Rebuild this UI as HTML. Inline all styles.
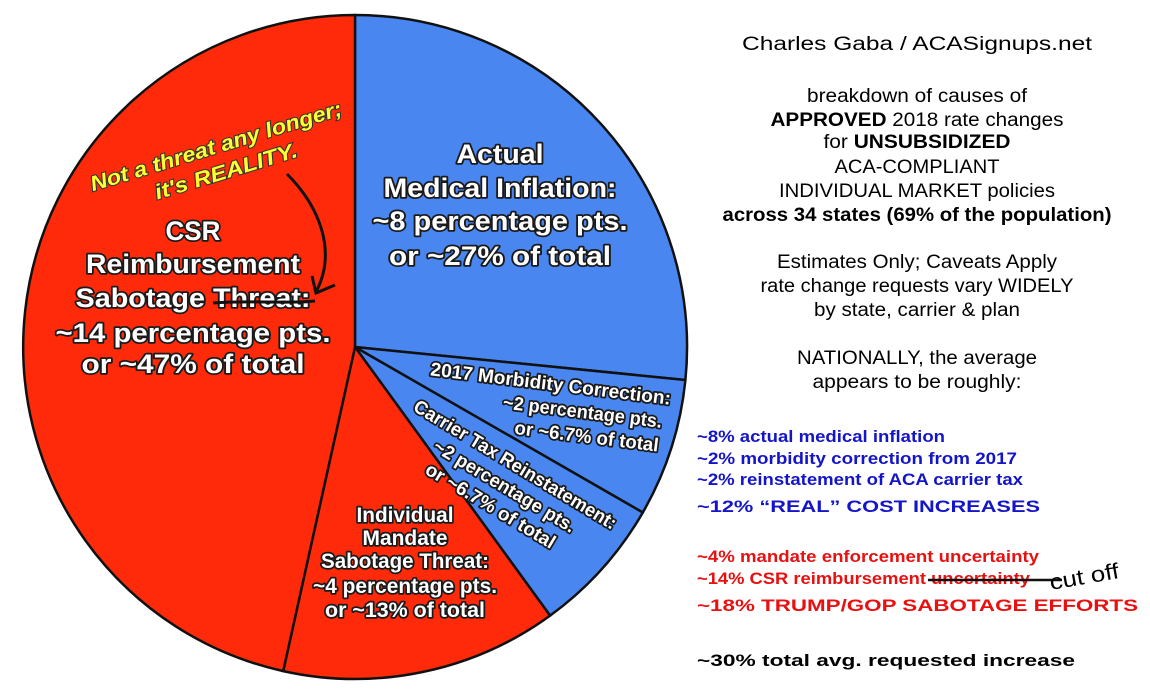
<!DOCTYPE html>
<html><head><meta charset="utf-8"><style>
html,body{margin:0;padding:0;background:#fff;}
svg{display:block;}
.w{fill:#fff;stroke:#1a1a1a;stroke-width:3.5;paint-order:stroke;stroke-linejoin:round;font-family:"Liberation Sans",sans-serif;font-weight:bold;text-anchor:middle;}
.r{font-family:"Liberation Sans",sans-serif;fill:#000;text-anchor:middle;font-size:19px;}
.l{font-family:"Liberation Sans",sans-serif;font-weight:bold;font-size:17px;}
</style></head><body>
<svg width="1150" height="700" viewBox="0 0 1150 700" xmlns="http://www.w3.org/2000/svg">
<rect width="1150" height="700" fill="#fff"/>
<g stroke="#111" stroke-width="2.5" stroke-linejoin="round">
<path d="M355,347 L355,15 A332,332 0 0 1 685.4,380 Z" fill="#4a86f0"/>
<path d="M355,347 L685.4,380 A332,332 0 0 1 642.8,512.5 Z" fill="#4a86f0"/>
<path d="M355,347 L642.8,512.5 A332,332 0 0 1 550.1,615.6 Z" fill="#4a86f0"/>
<path d="M355,347 L550.1,615.6 A332,332 0 0 1 283.2,671.1 Z" fill="#ff2a0a"/>
<path d="M355,347 L283.2,671.1 A332,332 0 0 1 355,15 Z" fill="#ff2a0a"/>
</g>
<g class="w" font-size="27" lengthAdjust="spacingAndGlyphs">
<text x="500" y="163" textLength="87" lengthAdjust="spacingAndGlyphs">Actual</text>
<text x="500" y="197" textLength="233" lengthAdjust="spacingAndGlyphs">Medical Inflation:</text>
<text x="500" y="230" textLength="255" lengthAdjust="spacingAndGlyphs">~8 percentage pts.</text>
<text x="500" y="265" textLength="222" lengthAdjust="spacingAndGlyphs">or ~27% of total</text>
<text x="193" y="240" textLength="55" lengthAdjust="spacingAndGlyphs">CSR</text>
<text x="193" y="273" textLength="214" lengthAdjust="spacingAndGlyphs">Reimbursement</text>
<text x="193" y="307" textLength="235" lengthAdjust="spacingAndGlyphs">Sabotage Threat:</text>
<text x="193" y="342" textLength="275" lengthAdjust="spacingAndGlyphs">~14 percentage pts.</text>
<text x="193" y="373" textLength="223" lengthAdjust="spacingAndGlyphs">or ~47% of total</text>
</g>
<path d="M213,303 C250,300 285,304 315,301" fill="none" stroke="#111" stroke-width="3"/>
<g class="w" font-size="21" stroke-width="3">
<text x="405" y="522" textLength="97" lengthAdjust="spacingAndGlyphs">Individual</text>
<text x="405" y="545" textLength="85" lengthAdjust="spacingAndGlyphs">Mandate</text>
<text x="405" y="568" textLength="168" lengthAdjust="spacingAndGlyphs">Sabotage Threat:</text>
<text x="405" y="593" textLength="184" lengthAdjust="spacingAndGlyphs">~4 percentage pts.</text>
<text x="405" y="617" textLength="160" lengthAdjust="spacingAndGlyphs">or ~13% of total</text>
</g>
<g class="w" font-size="19" stroke-width="3" transform="translate(550,390) rotate(7)">
<text x="0" y="0" textLength="242" lengthAdjust="spacingAndGlyphs">2017 Morbidity Correction:</text>
<text x="35" y="24" textLength="160" lengthAdjust="spacingAndGlyphs">~2 percentage pts.</text>
<text x="42" y="48" textLength="145" lengthAdjust="spacingAndGlyphs">or ~6.7% of total</text>
</g>
<g class="w" font-size="19" stroke-width="3" transform="translate(512,470) rotate(31)">
<text x="0" y="0" textLength="233" lengthAdjust="spacingAndGlyphs">Carrier Tax Reinstatement:</text>
<text x="2" y="24" textLength="162" lengthAdjust="spacingAndGlyphs">~2 percentage pts.</text>
<text x="0" y="48" textLength="148" lengthAdjust="spacingAndGlyphs">or ~6.7% of total</text>
</g>
<g font-family="'Liberation Sans',sans-serif" font-size="21" font-style="italic" font-weight="bold" fill="#ffff30" stroke="#333" stroke-width="2" paint-order="stroke" text-anchor="middle">
<text x="0" y="0" transform="translate(218,153) rotate(-17)" textLength="262" lengthAdjust="spacingAndGlyphs">Not a threat any longer;</text>
<text x="0" y="0" transform="translate(228,178) rotate(-17)" textLength="148" lengthAdjust="spacingAndGlyphs">it's REALITY.</text>
</g>
<path d="M287,174 C318,205 338,250 316,292" fill="none" stroke="#111" stroke-width="3"/>
<path d="M312,276 L316,293 L335,285" fill="none" stroke="#111" stroke-width="3"/>
<g lengthAdjust="spacingAndGlyphs">
<text class="r" x="917" y="50" font-size="22" textLength="350" lengthAdjust="spacingAndGlyphs">Charles Gaba / ACASignups.net</text>
<text class="r" x="917" y="102" textLength="220" lengthAdjust="spacingAndGlyphs">breakdown of causes of</text>
<text class="r" x="917" y="126" textLength="293" lengthAdjust="spacingAndGlyphs"><tspan font-weight="bold">APPROVED</tspan> 2018 rate changes</text>
<text class="r" x="917" y="148" textLength="187" lengthAdjust="spacingAndGlyphs">for <tspan font-weight="bold">UNSUBSIDIZED</tspan></text>
<text class="r" x="917" y="173" textLength="165" lengthAdjust="spacingAndGlyphs">ACA-COMPLIANT</text>
<text class="r" x="917" y="197" textLength="276" lengthAdjust="spacingAndGlyphs">INDIVIDUAL MARKET policies</text>
<text class="r" x="917" y="221" font-weight="bold" textLength="389" lengthAdjust="spacingAndGlyphs">across 34 states (69% of the population)</text>
<text class="r" x="917" y="268" textLength="280" lengthAdjust="spacingAndGlyphs">Estimates Only; Caveats Apply</text>
<text class="r" x="917" y="292" textLength="313" lengthAdjust="spacingAndGlyphs">rate change requests vary WIDELY</text>
<text class="r" x="917" y="316" textLength="206" lengthAdjust="spacingAndGlyphs">by state, carrier &amp; plan</text>
<text class="r" x="917" y="364" textLength="240" lengthAdjust="spacingAndGlyphs">NATIONALLY, the average</text>
<text class="r" x="917" y="388" textLength="209" lengthAdjust="spacingAndGlyphs">appears to be roughly:</text>
</g>
<g fill="#1414c8">
<text class="l" x="697" y="442" textLength="248" lengthAdjust="spacingAndGlyphs">~8% actual medical inflation</text>
<text class="l" x="697" y="464" textLength="320" lengthAdjust="spacingAndGlyphs">~2% morbidity correction from 2017</text>
<text class="l" x="697" y="485" textLength="326" lengthAdjust="spacingAndGlyphs">~2% reinstatement of ACA carrier tax</text>
<text class="l" x="697" y="512" font-size="24" textLength="343" lengthAdjust="spacingAndGlyphs">~12% “REAL” COST INCREASES</text>
</g>
<g fill="#e81010">
<text class="l" x="697" y="562" textLength="342" lengthAdjust="spacingAndGlyphs">~4% mandate enforcement uncertainty</text>
<text class="l" x="697" y="584" textLength="333" lengthAdjust="spacingAndGlyphs">~14% CSR reimbursement uncertainty</text>
<text class="l" x="697" y="611" font-size="24" textLength="441" lengthAdjust="spacingAndGlyphs">~18% TRUMP/GOP SABOTAGE EFFORTS</text>
</g>
<line x1="928" y1="580" x2="1062" y2="580" stroke="#111" stroke-width="2.5"/>
<text x="1051" y="590" font-family="'Liberation Sans',sans-serif" font-size="22" transform="rotate(-10 1051 590)" textLength="70" lengthAdjust="spacingAndGlyphs">cut off</text>
<text class="l" x="697" y="666" font-size="21" fill="#000" textLength="378" lengthAdjust="spacingAndGlyphs">~30% total avg. requested increase</text>
</svg>
</body></html>
